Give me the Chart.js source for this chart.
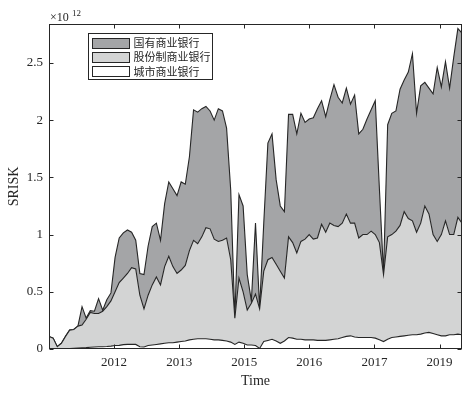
<!DOCTYPE html>
<html>
<head>
<meta charset="utf-8">
<script src="https://cdn.jsdelivr.net/npm/chart.js@4.4.0/dist/chart.umd.min.js"></script>
<style>
  html, body { margin: 0; padding: 0; background: #fff; }
  #wrap { width: 472px; height: 395px; position: relative; }
</style>
</head>
<body>
<div id="wrap"><canvas id="sriskChart"></canvas></div>
<script>
// SRISK by bank group, units of 10^12, one value per month (stacked)
const stateOwned = [
  0, 0, 0, 0, 0, 0, 0, 0, 0.16, 0.01,
  0.015, 0.02, 0.13, 0.01, 0.06, 0.07, 0.30, 0.39, 0.395, 0.38,
  0.31, 0.25, 0.19, 0.30, 0.43, 0.51, 0.47, 0.39, 0.55, 0.65,
  0.68, 0.68, 0.77, 0.71, 0.82, 1.14, 1.15, 1.12, 1.06, 1.03,
  1.04, 1.16, 1.13, 0.96, 0.61, 0, 0.73, 0.75, 0.31, 0.02,
  0.62, 0.01, 0.42, 1.02, 1.08, 0.74, 0.57, 0.58, 1.07, 1.12,
  1.04, 1.12, 1.02, 1.01, 1.06, 1.13, 1.08, 1.01, 1.08, 1.23,
  1.13, 1.05, 1.10, 1.04, 1.12, 0.91, 0.92, 1.01, 1.06, 1.17,
  0.47, 0.01, 0.98, 1.06, 1.05, 1.19, 1.15, 1.28, 1.46, 1.04,
  1.20, 1.08, 1.10, 1.23, 1.52, 1.29, 1.39, 1.28, 1.55, 1.65,
  1.66
];
const jointStock = [
  0.11, 0.095, 0.02, 0.05, 0.108, 0.161, 0.164, 0.192, 0.20, 0.248,
  0.305, 0.292, 0.29, 0.31, 0.348, 0.395, 0.47, 0.548, 0.582, 0.62,
  0.67, 0.66, 0.45, 0.332, 0.44, 0.525, 0.59, 0.515, 0.67, 0.755,
  0.665, 0.60, 0.625, 0.66, 0.78, 0.865, 0.83, 0.89, 0.97, 0.965,
  0.88, 0.86, 0.875, 0.90, 0.72, 0.23, 0.56, 0.45, 0.305, 0.365,
  0.45, 0.345, 0.615, 0.705, 0.715, 0.67, 0.63, 0.55, 0.88, 0.835,
  0.755, 0.855, 0.88, 0.92, 0.88, 0.895, 1.015, 0.945, 1.02, 0.995,
  0.98, 1.0, 1.07, 0.985, 0.995, 0.87, 0.90, 0.90, 0.93, 0.905,
  0.85, 0.585, 0.895, 0.90, 0.925, 0.97, 1.085, 1.02, 0.995, 0.895,
  0.97, 1.11, 1.035, 0.865, 0.815, 0.885, 1.005, 0.875, 0.875, 1.02,
  0.975
];
const cityBanks = [
  0, 0, 0, 0, 0.002, 0.004, 0.006, 0.008, 0.01, 0.012,
  0.015, 0.018, 0.02, 0.02, 0.022, 0.025, 0.03, 0.032, 0.038, 0.04,
  0.04, 0.04, 0.02, 0.018, 0.03, 0.035, 0.04, 0.045, 0.05, 0.055,
  0.055, 0.06, 0.065, 0.07, 0.08, 0.085, 0.09, 0.09, 0.09, 0.085,
  0.08, 0.08, 0.075, 0.07, 0.06, 0.04, 0.06, 0.05, 0.035, 0.035,
  0.03, 0.005, 0.065, 0.075, 0.085, 0.07, 0.05, 0.07, 0.10, 0.095,
  0.085, 0.085, 0.08, 0.08, 0.08, 0.075, 0.075, 0.075, 0.08, 0.085,
  0.09, 0.10, 0.11, 0.115, 0.105, 0.10, 0.10, 0.10, 0.10, 0.095,
  0.08, 0.065, 0.085, 0.10, 0.105, 0.11, 0.115, 0.12, 0.125, 0.125,
  0.13, 0.14, 0.145, 0.135, 0.125, 0.115, 0.115, 0.125, 0.125, 0.13,
  0.125
];
const seriesNames = ['国有商业银行', '股份制商业银行', '城市商业银行'];
const xTickPos = [15.76, 31.52, 47.28, 63.04, 78.8, 94.56];
const xTickLabels = ['2012', '2013', '2015', '2016', '2017', '2019'];
const yTickValues = [0, 0.5, 1, 1.5, 2, 2.5];

const axisColor = '#262626';
const fills = { state: '#a4a5a7', joint: '#d3d4d4', city: '#ffffff' };

function toPoints(arr) {
  return arr.map((v, i) => ({ x: i, y: v }));
}

// box, inward ticks, exponent and the legend inside the axes
const framePlugin = {
  id: 'frame',
  afterDraw(chart) {
    const { ctx, chartArea: a, scales: { x, y } } = chart;
    const L = Math.round(a.left) + 0.5, R = Math.round(a.right) - 0.5;
    const T = Math.round(a.top) + 0.5, B = Math.round(a.bottom) - 0.5;
    ctx.save();
    ctx.strokeStyle = axisColor;
    ctx.lineWidth = 1;
    ctx.strokeRect(L, T, R - L, B - T);
    ctx.beginPath();
    x.ticks.forEach(t => {
      const px = Math.round(x.getPixelForValue(t.value)) + 0.5;
      ctx.moveTo(px, B); ctx.lineTo(px, B - 4);
      ctx.moveTo(px, T); ctx.lineTo(px, T + 4);
    });
    y.ticks.forEach(t => {
      const py = Math.round(y.getPixelForValue(t.value)) + 0.5;
      ctx.moveTo(L, py); ctx.lineTo(L + 4, py);
      ctx.moveTo(R, py); ctx.lineTo(R - 4, py);
    });
    ctx.stroke();

    // x10^12
    ctx.fillStyle = axisColor;
    ctx.textBaseline = 'alphabetic';
    ctx.textAlign = 'left';
    ctx.font = '12px "Liberation Serif"';
    ctx.fillText('×10', a.left + 1, 21);
    ctx.font = '9px "Liberation Serif"';
    ctx.fillText('12', a.left + 23, 16);

    // legend
    const bx = Math.round(a.left + 39) + 0.5, by = Math.round(a.top + 9) + 0.5;
    const bw = 124, bh = 46;
    ctx.fillStyle = '#fff';
    ctx.fillRect(bx, by, bw, bh);
    ctx.strokeRect(bx, by, bw, bh);
    const swatch = [fills.state, fills.joint, fills.city];
    ctx.font = '11px "Noto Sans CJK SC"';
    ctx.textBaseline = 'middle';
    seriesNames.forEach((name, k) => {
      const cy = by + 9.5 + k * 14.2;
      ctx.fillStyle = swatch[k];
      ctx.fillRect(bx + 4, Math.round(cy - 5) + 0.5, 37, 10);
      ctx.strokeRect(bx + 4, Math.round(cy - 5) + 0.5, 37, 10);
      ctx.fillStyle = axisColor;
      ctx.fillText(name, bx + 45, cy);
    });
    ctx.restore();
  }
};

const lineStyle = {
  borderColor: axisColor,
  borderWidth: 1.1,
  pointRadius: 0,
  tension: 0
};

new Chart(document.getElementById('sriskChart'), {
  type: 'line',
  data: {
    datasets: [
      { ...lineStyle, label: seriesNames[2], data: toPoints(cityBanks), backgroundColor: fills.city, fill: 'origin' },
      { ...lineStyle, label: seriesNames[1], data: toPoints(jointStock), backgroundColor: fills.joint, fill: '-1' },
      { ...lineStyle, label: seriesNames[0], data: toPoints(stateOwned), backgroundColor: fills.state, fill: '-1' }
    ]
  },
  options: {
    responsive: true,
    maintainAspectRatio: false,
    animation: false,
    layout: { padding: { top: 24, right: 10, left: 0, bottom: 0 } },
    plugins: {
      legend: { display: false },
      tooltip: { enabled: false }
    },
    scales: {
      x: {
        type: 'linear',
        min: 0,
        max: cityBanks.length - 1,
        grid: { display: false, drawTicks: false },
        border: { display: false },
        afterBuildTicks: s => { s.ticks = xTickPos.map(v => ({ value: v })); },
        afterFit: s => { s.height = 46; },
        ticks: {
          autoSkip: false,
          maxRotation: 0,
          padding: 6,
          color: axisColor,
          font: { family: 'Liberation Serif', size: 13 },
          callback: (v, i) => xTickLabels[i]
        },
        title: {
          display: true,
          text: 'Time',
          color: axisColor,
          padding: 5,
          font: { family: 'Liberation Serif', size: 14 }
        }
      },
      y: {
        stacked: true,
        min: 0,
        max: 2.84,
        grid: { display: false, drawTicks: false },
        border: { display: false },
        afterBuildTicks: s => { s.ticks = yTickValues.map(v => ({ value: v })); },
        afterFit: s => { s.width = 49; },
        ticks: {
          padding: 6,
          color: axisColor,
          font: { family: 'Liberation Serif', size: 13 },
          callback: v => String(v)
        },
        title: {
          display: true,
          text: 'SRISK',
          color: axisColor,
          padding: 6,
          font: { family: 'Liberation Serif', size: 14 }
        }
      }
    }
  },
  plugins: [framePlugin]
});
</script>
</body>
</html>
